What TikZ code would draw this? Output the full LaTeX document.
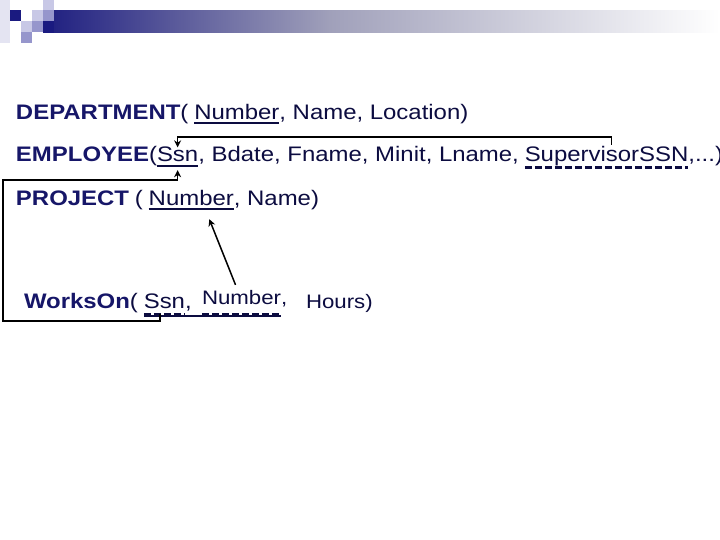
\documentclass[tikz,border=0pt]{standalone}
\usepackage{fontspec}
\setmainfont{Liberation Sans}[FakeStretch=1.14]
\usetikzlibrary{arrows.meta,calc}
\definecolor{relc}{RGB}{22,22,104}
\definecolor{attc}{RGB}{12,12,64}
\definecolor{hA}{RGB}{30,30,128}
\definecolor{hB}{RGB}{160,160,186}
\definecolor{hnavy}{RGB}{26,26,128}
\definecolor{hlight}{RGB}{200,200,230}
\definecolor{hmed}{RGB}{150,150,204}
\definecolor{hpale}{RGB}{228,228,242}
\newcommand{\gap}{\kern0.278em}
\begin{document}
\begin{tikzpicture}[x=1pt,y=-1pt,
  rel/.style={font=\fontsize{21}{25}\selectfont\bfseries,text=relc,inner sep=0pt,outer sep=0pt,anchor=base west},
  att/.style={font=\fontsize{21}{25}\selectfont,text=attc,inner sep=0pt,outer sep=0pt,anchor=base west},
  attsmall/.style={att,font=\fontsize{19.5}{23}\selectfont},
  conn/.style={draw=black,line width=1.5pt},
  tip/.style={-{Stealth[length=7pt,width=7pt]}},
  uline/.style={draw=attc,line width=1.8pt},
  dline/.style={draw=attc,line width=3pt,dash pattern=on 7pt off 3pt},
  thinline/.style={draw=attc,line width=1.2pt}]

\useasboundingbox (0,0) rectangle (720,540);
\fill[white] (0,0) rectangle (720,540);
\clip (0,0) rectangle (720,540);

% header bar
\shade[left color=hA, right color=hB] (43,11) rectangle (330,33);
\shade[left color=hB, right color=white] (329.5,11) rectangle (720,33);
\fill[hpale] (0,0) rectangle (10,43);
\fill[hnavy] (10,10) rectangle (21,21);
\fill[hlight] (32,10) rectangle (43,21);
\fill[hlight] (43,0) rectangle (54,10);
\fill[hmed] (43,10) rectangle (54,21);
\fill[hnavy] (43,21) rectangle (54,33);
\fill[hlight] (21,21) rectangle (32,32);
\fill[hmed] (32,21) rectangle (43,32);
\fill[hmed] (21,32) rectangle (32,43);

% DEPARTMENT
\node[rel] (dep) at (16,120) {DEPARTMENT};
\node[att] (dep1) at (dep.base east) {(\gap};
\node[att] (dnum) at (dep1.base east) {Number};
\node[att] (dep2) at (dnum.base east) {, Name, Location)};
\draw[uline] ([yshift=-3pt]dnum.base west) -- ([yshift=-3pt]dnum.base east);

% EMPLOYEE
\node[rel] (emp) at (16,162) {EMPLOYEE};
\node[att] (emp1) at (emp.base east) {(};
\node[att] (essn) at (emp1.base east) {Ssn};
\node[att] (emp2) at (essn.base east) {, Bdate, Fname, Minit, Lname,\gap};
\node[att] (sup) at (emp2.base east) {SupervisorSSN};
\node[att] (emp3) at (sup.base east) {,...)};
\draw[uline] ([yshift=-4pt]essn.base west) -- ([yshift=-4pt]essn.base east);
\draw[dline] ([yshift=-6pt]sup.base west) -- ([yshift=-6pt]sup.base east);

% PROJECT
\node[rel] (prj) at (16,206) {PROJECT};
\node[att] (prj1) at (prj.base east) {\gap(\gap};
\node[att] (pnum) at (prj1.base east) {Number};
\node[att] (prj2) at (pnum.base east) {, Name)};
\draw[uline] ([yshift=-3pt]pnum.base west) -- ([yshift=-3pt]pnum.base east);

% WorksOn
\node[rel] (wo) at (24,308) {WorksOn};
\node[att] (wo1) at (wo.base east) {(\gap};
\node[att] (wssn) at (wo1.base east) {Ssn};
\node[att] (wo2) at (wssn.base east) {,};
\node[attsmall] (wnum) at (202,304) {Number};
\node[attsmall] (wo3) at (wnum.base east) {,};
\node[attsmall] (hrs) at (306,308) {Hours)};
\draw[thinline] ([yshift=-8pt]wssn.base west) -- ([yshift=-12pt]wnum.base east);
\draw[dline] ([yshift=-6pt]wssn.base west) -- ([yshift=-6pt]wssn.base east);
\draw[dline] ([yshift=-10pt]wnum.base west) -- ([yshift=-10pt]wnum.base east);

% connectors
\coordinate (supc) at ([xshift=5pt,yshift=2pt]sup.north);
\draw[conn,tip] (supc) -- ++(0,-8) -| (essn.north);

\coordinate (wk) at ([xshift=16pt,yshift=-6pt]wssn.base west);
\coordinate (lft) at (3,180);
\draw[conn,tip] (wk) -- ++(0,7) -| (lft) -| ([yshift=-8pt]essn.south);

\draw[conn,tip] ([xshift=-6pt,yshift=5pt]wnum.north) -- ([xshift=18pt,yshift=-13pt]pnum.south);
\end{tikzpicture}
\end{document}
